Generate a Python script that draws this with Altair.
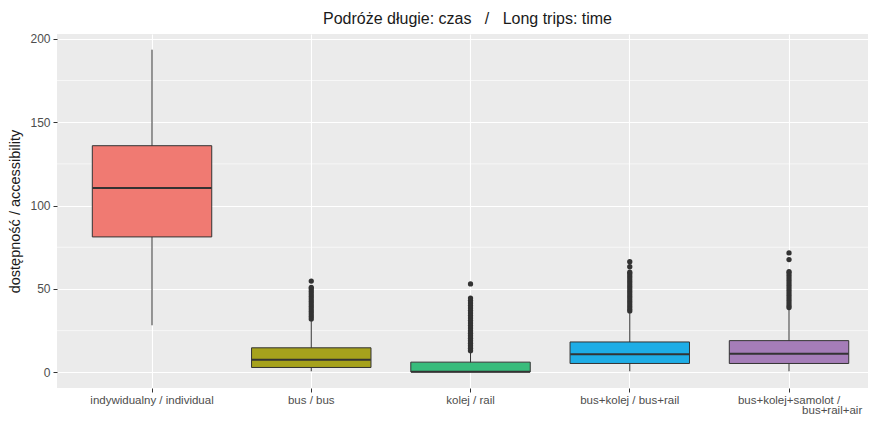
import altair as alt
import pandas as pd

# ---- data ----
categories = [
    "indywidualny / individual",
    "bus / bus",
    "kolej / rail",
    "bus+kolej / bus+rail",
    "bus+kolej+samolot / bus+rail+air",
]
fill_colors = ["#F07A72", "#A6A21C", "#38BC7C", "#1EADE6", "#A57DB8"]

whisker_low = [28.2, 0.6, 0.2, 0.6, 0.6]
q1 = [81.2, 2.9, 0.2, 5.3, 5.3]
median = [110.6, 7.6, 0.4, 10.8, 11.2]
q3 = [135.9, 14.7, 6.1, 18.2, 19.0]
whisker_high = [193.5, 31.0, 12.4, 35.9, 37.8]

outliers_bus = [32, 33.5, 35, 36.5, 38, 39.5, 41, 42.5, 44, 45.5, 47, 48.5, 50, 51, 54.7]
outliers_rail = [13, 14.5, 16, 17.5, 19, 20.5, 22, 23.5, 25, 26.5, 28, 29.5, 31, 32.5,
                 34, 35.5, 37, 38.5, 40, 41.5, 43, 44.5, 53]
outliers_bus_rail = [36.8, 38, 39.5, 41, 42.5, 44, 45.5, 47, 48.5, 50, 51.5, 53, 54.5,
                     56, 57.5, 59, 60, 63.3, 66.3]
outliers_bus_rail_air = [38.8, 40, 41.5, 43, 44.5, 46, 47.5, 49, 50.5, 52, 53.5, 55,
                         56.5, 58, 59.5, 60.4, 67.6, 71.6]

y_ticks = [0, 50, 100, 150, 200]
y_minor = [25, 75, 125, 175]

NB = "\u00a0"
title_text = "Podróże długie: czas" + NB * 3 + "/" + NB * 3 + "Long trips: time"
y_title = "dostępność / accessibility"
# zero-width char first so the leading spaces are not trimmed
last_label_lines = ["bus+kolej+samolot /", "\u200b" + NB * 27 + "bus+rail+air"]

# ---- tables ----
stats = pd.DataFrame({
    "cat": categories,
    "lo": whisker_low,
    "q1": q1,
    "med": median,
    "q3": q3,
    "hi": whisker_high,
})
out_rows = []
for c, vals in zip(categories[1:], [outliers_bus, outliers_rail, outliers_bus_rail, outliers_bus_rail_air]):
    for v in vals:
        out_rows.append({"cat": c, "v": v})
outliers = pd.DataFrame(out_rows)
minor = pd.DataFrame({"v": y_minor})

FONT = "Liberation Sans"
ydom = [-9.41, 202.9]

label_expr = (
    "datum.value == '" + categories[4] + "' ? ['" + last_label_lines[0] + "', '"
    + last_label_lines[1] + "'] : datum.value"
)

xscale = alt.Scale(domain=categories, paddingInner=0.25, paddingOuter=0.1713, align=0.647)
yscale = alt.Scale(domain=ydom, nice=False, zero=False)

x_enc = alt.X(
    "cat:N", sort=categories, scale=xscale, title=None,
    axis=alt.Axis(
        labelAngle=0, labelExpr=label_expr, labelFontSize=11.5, labelColor="#4D4D4D",
        labelFont=FONT, labelPadding=2, labelLineHeight=10.5, labelLimit=300,
        tickColor="#333333", tickSize=4, domain=False,
        grid=True, gridColor="white", gridWidth=1.1,
    ),
)
y_axis = alt.Axis(
    values=y_ticks, labelFontSize=12, labelColor="#4D4D4D", labelFont=FONT,
    labelPadding=3, tickColor="#333333", tickSize=4, domain=False,
    grid=True, gridColor="white", gridWidth=1.1,
    title=y_title, titleFont=FONT, titleFontSize=14.5, titleFontWeight="normal",
    titleColor="#1A1A1A", titlePadding=7,
)

minor_grid = alt.Chart(minor).mark_rule(color="white", strokeWidth=0.6).encode(
    y=alt.Y("v:Q", scale=yscale, axis=y_axis)
)

whiskers = alt.Chart(stats).mark_rule(color="#333333", strokeWidth=1).encode(
    x=x_enc,
    y=alt.Y("lo:Q", scale=yscale, axis=y_axis),
    y2="hi:Q",
)

boxes = alt.Chart(stats).mark_bar(stroke="#333333", strokeWidth=1, cornerRadius=0).encode(
    x=x_enc,
    y=alt.Y("q1:Q", scale=yscale),
    y2="q3:Q",
    fill=alt.Fill("cat:N", scale=alt.Scale(domain=categories, range=fill_colors), legend=None),
)

medians = alt.Chart(stats).mark_tick(color="#333333", thickness=2, size=119, opacity=1).encode(
    x=x_enc,
    y=alt.Y("med:Q", scale=yscale),
)

points = alt.Chart(outliers).mark_circle(color="#333333", size=28, opacity=1).encode(
    x=x_enc,
    y=alt.Y("v:Q", scale=yscale),
)

chart = (
    alt.layer(minor_grid, whiskers, boxes, medians, points)
    .properties(
        width=811,
        height=354,
        autosize=alt.AutoSizeParams(type="none"),
        padding={"left": 49, "top": 26, "right": 0, "bottom": 29},
        title=alt.TitleParams(
            text=title_text, font=FONT, fontSize=16, fontWeight="normal",
            color="#1A1A1A", anchor="middle", offset=6, dx=5,
        ),
    )
    .configure(font=FONT, background="white")
    .configure_view(fill="#EBEBEB", stroke=None)
)

chart.save("out.html", embed_options={"renderer": "svg", "actions": False})
